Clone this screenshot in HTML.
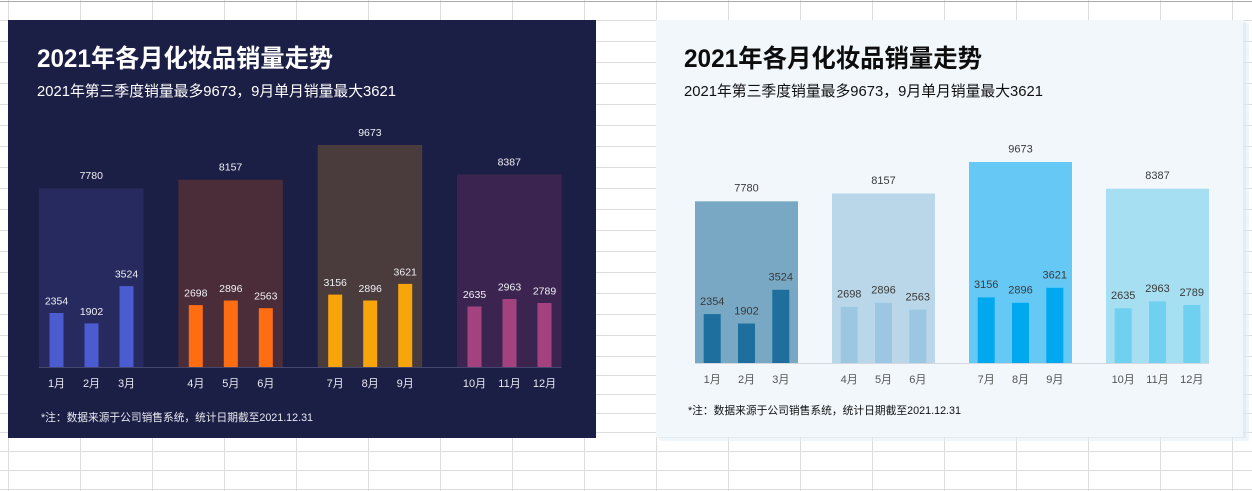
<!DOCTYPE html>
<html><head><meta charset="utf-8"><style>
html,body{margin:0;padding:0;background:#fff;}
svg{display:block;}
text{font-family:"Liberation Sans","Noto Sans CJK SC",sans-serif;}
</style></head><body>
<svg width="1252" height="491" viewBox="0 0 1252 491" xmlns="http://www.w3.org/2000/svg">
<rect width="1252" height="491" fill="#ffffff"/>
<g stroke="#dcdcdc" stroke-width="1">
<line x1="0" y1="20.5" x2="1252" y2="20.5"/><line x1="0" y1="41.5" x2="1252" y2="41.5"/><line x1="0" y1="62.5" x2="1252" y2="62.5"/><line x1="0" y1="83.5" x2="1252" y2="83.5"/><line x1="0" y1="104.5" x2="1252" y2="104.5"/><line x1="0" y1="125.5" x2="1252" y2="125.5"/><line x1="0" y1="146.5" x2="1252" y2="146.5"/><line x1="0" y1="167.5" x2="1252" y2="167.5"/><line x1="0" y1="188.5" x2="1252" y2="188.5"/><line x1="0" y1="209.5" x2="1252" y2="209.5"/><line x1="0" y1="230.5" x2="1252" y2="230.5"/><line x1="0" y1="251.5" x2="1252" y2="251.5"/><line x1="0" y1="272.5" x2="1252" y2="272.5"/><line x1="0" y1="293.5" x2="1252" y2="293.5"/><line x1="0" y1="314.5" x2="1252" y2="314.5"/><line x1="0" y1="335.5" x2="1252" y2="335.5"/><line x1="0" y1="356.5" x2="1252" y2="356.5"/><line x1="0" y1="375.5" x2="1252" y2="375.5"/><line x1="0" y1="394.5" x2="1252" y2="394.5"/><line x1="0" y1="413.5" x2="1252" y2="413.5"/><line x1="0" y1="432.5" x2="1252" y2="432.5"/><line x1="0" y1="451.5" x2="1252" y2="451.5"/><line x1="0" y1="470.5" x2="1252" y2="470.5"/><line x1="0" y1="489.5" x2="1252" y2="489.5"/>
<line x1="8.5" y1="0" x2="8.5" y2="491"/><line x1="80.5" y1="0" x2="80.5" y2="491"/><line x1="152.5" y1="0" x2="152.5" y2="491"/><line x1="224.5" y1="0" x2="224.5" y2="491"/><line x1="296.5" y1="0" x2="296.5" y2="491"/><line x1="368.5" y1="0" x2="368.5" y2="491"/><line x1="440.5" y1="0" x2="440.5" y2="491"/><line x1="512.5" y1="0" x2="512.5" y2="491"/><line x1="584.5" y1="0" x2="584.5" y2="491"/><line x1="656.5" y1="0" x2="656.5" y2="491"/><line x1="728.5" y1="0" x2="728.5" y2="491"/><line x1="800.5" y1="0" x2="800.5" y2="491"/><line x1="872.5" y1="0" x2="872.5" y2="491"/><line x1="944.5" y1="0" x2="944.5" y2="491"/><line x1="1016.5" y1="0" x2="1016.5" y2="491"/><line x1="1088.5" y1="0" x2="1088.5" y2="491"/><line x1="1160.5" y1="0" x2="1160.5" y2="491"/><line x1="1232.5" y1="0" x2="1232.5" y2="491"/>
</g>
<line x1="0" y1="1.5" x2="1252" y2="1.5" stroke="#a8a8a8" stroke-width="1"/>

<!-- DARK PANEL -->
<rect x="8" y="20" width="588" height="418" fill="#1b1e45"/>
<text x="37" y="67" font-size="25" font-weight="bold" fill="#ffffff" textLength="296" lengthAdjust="spacingAndGlyphs">2021年各月化妆品销量走势</text>
<text x="37" y="96" font-size="15" fill="#ffffff" textLength="359" lengthAdjust="spacingAndGlyphs">2021年第三季度销量最多9673，9月单月销量最大3621</text>
<rect x="39" y="188.4" width="104.5" height="178.6" fill="#262a5e"/>
<rect x="178.3" y="179.8" width="104.5" height="187.2" fill="#4a2d39"/>
<rect x="317.7" y="145" width="104.5" height="222" fill="#4a3b3c"/>
<rect x="457" y="174.5" width="104.5" height="192.5" fill="#3b2550"/>
<g fill="#4b5bd0"><rect x="49.5" y="313" width="14" height="54"/><rect x="84.5" y="323.4" width="14" height="43.6"/><rect x="119.5" y="286.1" width="14" height="80.9"/></g>
<g fill="#ff6d12"><rect x="188.8" y="305.1" width="14" height="61.9"/><rect x="223.8" y="300.5" width="14" height="66.5"/><rect x="258.8" y="308.2" width="14" height="58.8"/></g>
<g fill="#f8a50c"><rect x="328.2" y="294.6" width="14" height="72.4"/><rect x="363.2" y="300.5" width="14" height="66.5"/><rect x="398.2" y="283.9" width="14" height="83.1"/></g>
<g fill="#a3427f"><rect x="467.5" y="306.5" width="14" height="60.5"/><rect x="502.5" y="299" width="14" height="68"/><rect x="537.5" y="303" width="14" height="64"/></g>
<line x1="39" y1="367.5" x2="561.5" y2="367.5" stroke="#45486e" stroke-width="1"/>
<g font-size="10.5" fill="#f0f0f5" text-anchor="middle">
<text x="91.25" y="179.2">7780</text><text x="230.6" y="170.6">8157</text><text x="369.9" y="135.8">9673</text><text x="509.25" y="165.3">8387</text>
<text x="56.5" y="304.5">2354</text><text x="91.5" y="314.9">1902</text><text x="126.5" y="277.6">3524</text>
<text x="195.8" y="296.6">2698</text><text x="230.8" y="292">2896</text><text x="265.8" y="299.7">2563</text>
<text x="335.2" y="286.1">3156</text><text x="370.2" y="292">2896</text><text x="405.2" y="275.4">3621</text>
<text x="474.5" y="298">2635</text><text x="509.5" y="290.5">2963</text><text x="544.5" y="294.5">2789</text>
</g>
<g font-size="11" fill="#e8e9f0" text-anchor="middle">
<text x="56.5" y="387">1月</text><text x="91.5" y="387">2月</text><text x="126.5" y="387">3月</text>
<text x="195.8" y="387">4月</text><text x="230.8" y="387">5月</text><text x="265.8" y="387">6月</text>
<text x="335.2" y="387">7月</text><text x="370.2" y="387">8月</text><text x="405.2" y="387">9月</text>
<text x="474.5" y="387">10月</text><text x="509.5" y="387">11月</text><text x="544.5" y="387">12月</text>
</g>
<text x="41" y="421" font-size="11" fill="#e8e9f0" textLength="272" lengthAdjust="spacingAndGlyphs">*注：数据来源于公司销售系统，统计日期截至2021.12.31</text>

<!-- LIGHT PANEL -->
<rect x="659" y="23" width="590" height="418" fill="#e6eef6" opacity="0.6"/>
<rect x="658" y="22" width="588" height="416" fill="#d9e6f2" opacity="0.6"/>
<rect x="656" y="20" width="587" height="417" fill="#f2f7fb"/>
<text x="684" y="67" font-size="25" font-weight="bold" fill="#0d0d0d" textLength="298" lengthAdjust="spacingAndGlyphs">2021年各月化妆品销量走势</text>
<text x="684" y="96" font-size="15" fill="#111111" textLength="359" lengthAdjust="spacingAndGlyphs">2021年第三季度销量最多9673，9月单月销量最大3621</text>
<rect x="695" y="201.3" width="103" height="161.7" fill="#78a8c4"/>
<rect x="832" y="193.5" width="103" height="169.5" fill="#bad7e9"/>
<rect x="969" y="162" width="103" height="201" fill="#66c8f5"/>
<rect x="1106" y="188.7" width="103" height="174.3" fill="#a6dff2"/>
<g fill="#1e6f9e"><rect x="703.7" y="314.1" width="17" height="48.9"/><rect x="738" y="323.5" width="17" height="39.5"/><rect x="772.3" y="289.8" width="17" height="73.2"/></g>
<g fill="#9cc7e2"><rect x="840.7" y="306.9" width="17" height="56.1"/><rect x="875" y="302.8" width="17" height="60.2"/><rect x="909.3" y="309.7" width="17" height="53.3"/></g>
<g fill="#00a8f0"><rect x="977.7" y="297.4" width="17" height="65.6"/><rect x="1012" y="302.8" width="17" height="60.2"/><rect x="1046.3" y="287.8" width="17" height="75.2"/></g>
<g fill="#6fd0ef"><rect x="1114.7" y="308.3" width="17" height="54.7"/><rect x="1149" y="301.4" width="17" height="61.6"/><rect x="1183.3" y="305" width="17" height="58"/></g>
<line x1="695" y1="363.5" x2="1209" y2="363.5" stroke="#d3d8de" stroke-width="1"/>
<g font-size="11" fill="#3a3a3a" text-anchor="middle">
<text x="746.5" y="191.6">7780</text><text x="883.5" y="183.8">8157</text><text x="1020.5" y="152.3">9673</text><text x="1157.5" y="179">8387</text>
<text x="712.2" y="304.9">2354</text><text x="746.5" y="314.3">1902</text><text x="780.8" y="280.6">3524</text>
<text x="849.2" y="297.7">2698</text><text x="883.5" y="293.6">2896</text><text x="917.8" y="300.5">2563</text>
<text x="986.2" y="288.2">3156</text><text x="1020.5" y="293.6">2896</text><text x="1054.8" y="278.6">3621</text>
<text x="1123.2" y="299.1">2635</text><text x="1157.5" y="292.2">2963</text><text x="1191.8" y="295.9">2789</text>
</g>
<g font-size="11" fill="#555555" text-anchor="middle">
<text x="712.2" y="383">1月</text><text x="746.5" y="383">2月</text><text x="780.8" y="383">3月</text>
<text x="849.2" y="383">4月</text><text x="883.5" y="383">5月</text><text x="917.8" y="383">6月</text>
<text x="986.2" y="383">7月</text><text x="1020.5" y="383">8月</text><text x="1054.8" y="383">9月</text>
<text x="1123.2" y="383">10月</text><text x="1157.5" y="383">11月</text><text x="1191.8" y="383">12月</text>
</g>
<text x="688" y="414" font-size="11" fill="#111111" textLength="273" lengthAdjust="spacingAndGlyphs">*注：数据来源于公司销售系统，统计日期截至2021.12.31</text>
</svg>
</body></html>
